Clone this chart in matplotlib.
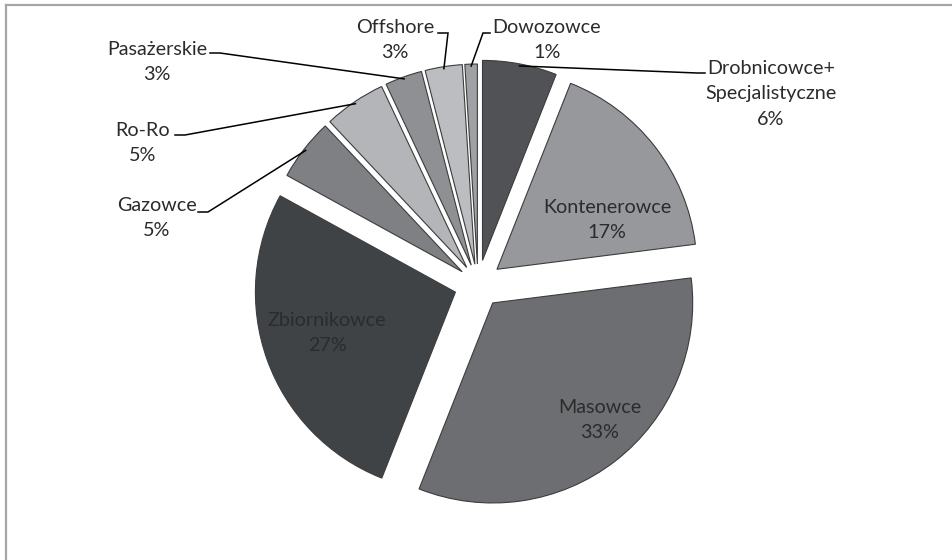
import numpy as np
import matplotlib
matplotlib.use("Agg")
import matplotlib.pyplot as plt

plt.rcParams['font.family'] = ['Lato', 'DejaVu Sans']

names = ["Drobnicowce+\nSpecjalistyczne", "Kontenerowce", "Masowce", "Zbiornikowce",
         "Gazowce", "Ro-Ro", "Pasażerskie", "Offshore", "Dowozowce"]
shares = [6, 17, 33, 27, 5, 5, 3, 3, 1]
colors = ["#505256", "#97989c", "#6d6e72", "#404346", "#7e8084",
          "#b4b5b9", "#8f9094", "#bcbdc1", "#a0a1a5"]

W, H = 953, 560
fig = plt.figure(figsize=(W / 100, H / 100), dpi=100)
ax = fig.add_axes([0, 0, 1, 1])

# axes in pixel units, y up
cx, cy, r = 478, 276, 200
explode = [24, 24, 24, 24, 20, 20, 20, 20, 20]
wedges, _ = ax.pie(shares, colors=colors, explode=explode, startangle=90,
                   counterclock=False, radius=r, center=(cx, cy),
                   wedgeprops=dict(edgecolor="#3c3c3c", linewidth=0.8))
ax.set_xlim(0, W)
ax.set_ylim(0, H)
ax.set_aspect("auto")
ax.axis("off")

txt_color = "#2b2b2b"
fs = 14.2
lsp = 1.6

# labels inside the big slices
inside = {1: (607, 340), 2: (600, 140), 3: (327, 227)}
for i, (x, y) in inside.items():
    ax.text(x, y, f"{names[i]}\n{shares[i]}%", ha="center", va="center",
            fontsize=fs, color=txt_color, linespacing=lsp)

# outside labels: text position, elbow start, elbow end
outside = {
    0: ((771, 466), (705, 487), (697, 487)),
    7: ((395, 520), (438, 527), (448, 527)),
    8: ((547, 520), (490, 527), (483, 527)),
    6: ((157, 498), (210, 507), (220, 507)),
    5: ((143, 417), (175, 425), (185, 425)),
    4: ((157, 342), (198, 348), (208, 348)),
}
for i, (pos, p0, p1) in outside.items():
    w = wedges[i]
    mid = np.deg2rad((w.theta1 + w.theta2) / 2)
    ex = w.center[0] + w.r * 0.99 * np.cos(mid)
    ey = w.center[1] + w.r * 0.99 * np.sin(mid)
    ax.plot([p0[0], p1[0], ex], [p0[1], p1[1], ey], color="black", lw=1.1,
            solid_joinstyle="miter")
    ax.text(pos[0], pos[1], f"{names[i]}\n{shares[i]}%", ha="center", va="center",
            fontsize=fs, color=txt_color, linespacing=lsp)

# chart frame (only top and left edges fall inside the image)
ax.plot([6, W], [H - 5, H - 5], color="#a6a6a6", lw=1.6)
ax.plot([6, 6], [0, H - 5], color="#a6a6a6", lw=1.6)

fig.savefig("out.png", dpi=100)
